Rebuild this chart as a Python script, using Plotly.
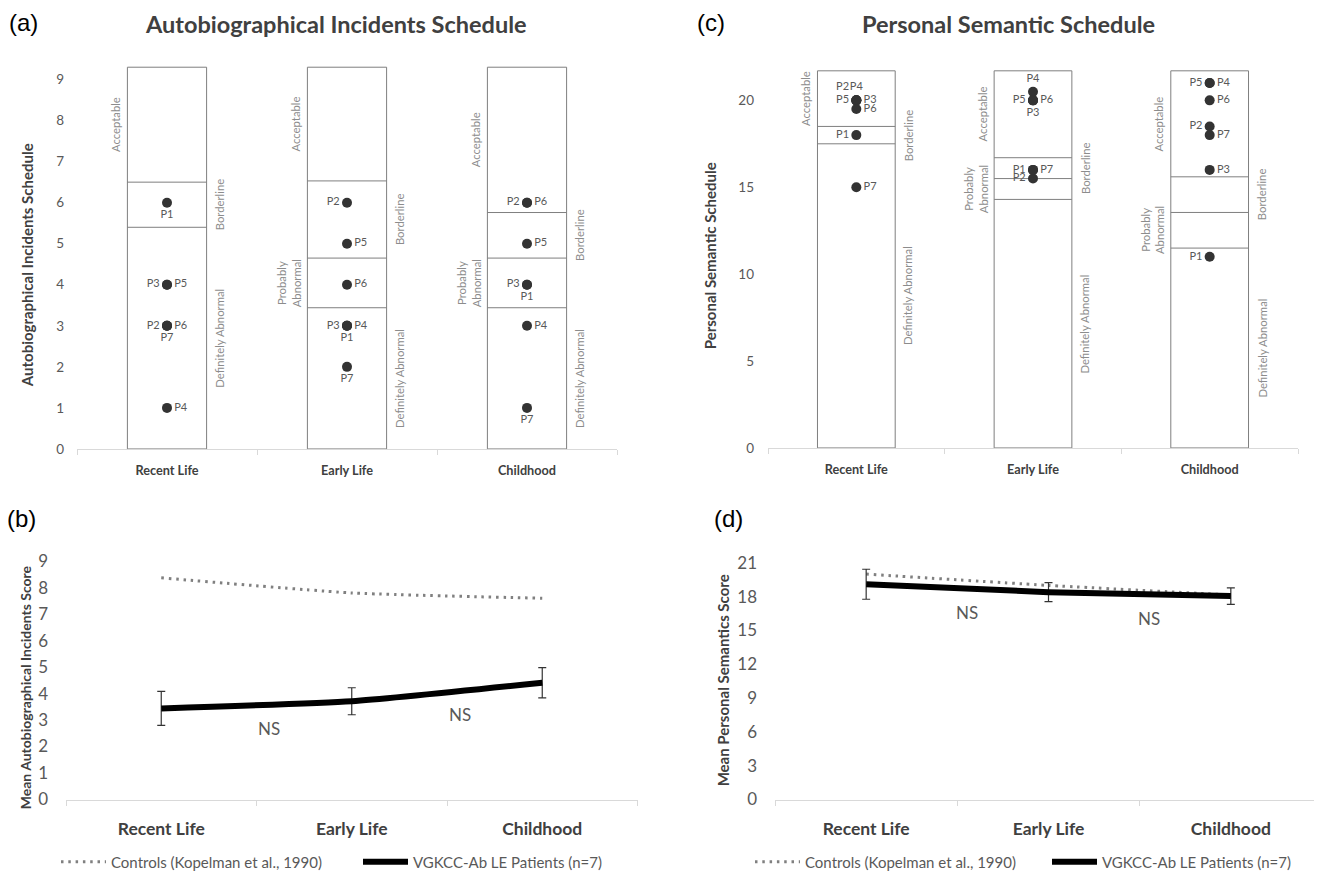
import plotly.graph_objects as go

# page geometry (the html body adds an 8px margin around the figure)
PAGE_W, PAGE_H, OFF = 1322, 879, 8
W, H = PAGE_W - OFF, PAGE_H - OFF

# ---------------- data ----------------
categories = ["Recent Life", "Early Life", "Childhood"]
patients = ["P1", "P2", "P3", "P4", "P5", "P6", "P7"]

# (a) Autobiographical Incidents Schedule - individual scores
ais_recent = [6, 3, 4, 1, 4, 3, 3]
ais_early = [3, 6, 3, 3, 5, 4, 2]
ais_childhood = [4, 6, 4, 3, 5, 6, 1]
ais_cutoffs_recent = [5.4, 6.5]
ais_cutoffs_early = [3.44, 4.65, 6.53]
ais_cutoffs_childhood = [3.44, 4.65, 5.76]
ais_scale_top = 9.3
ais_ticks = [0, 1, 2, 3, 4, 5, 6, 7, 8, 9]

# (c) Personal Semantic Schedule - individual scores
pss_recent = [18, 20, 20, 20, 20, 19.5, 15]
pss_early = [16, 15.5, 20, 20.5, 20, 20, 16]
pss_childhood = [11, 18.5, 16, 21, 21, 20, 18]
pss_cutoffs_recent = [17.5, 18.5]
pss_cutoffs_early = [14.3, 15.5, 16.7]
pss_cutoffs_childhood = [11.5, 13.55, 15.6]
pss_scale_top = 21.7
pss_ticks = [0, 5, 10, 15, 20]

zones_3 = ["Definitely Abnormal", "Borderline", "Acceptable"]
zones_4 = ["Definitely Abnormal", "Probably<br>Abnormal", "Borderline", "Acceptable"]

# (b) mean AIS scores
ais_controls = [8.37, 7.8, 7.6]
ais_patients = [3.44, 3.71, 4.41]
ais_patients_err = [0.64, 0.51, 0.57]
ais_mean_ticks = [0, 1, 2, 3, 4, 5, 6, 7, 8, 9]

# (d) mean PSS scores
pss_controls = [20.0, 19.0, 18.15]
pss_patients = [19.1, 18.4, 18.05]
pss_patients_err = [1.33, 0.84, 0.73]
pss_mean_ticks = [0, 3, 6, 9, 12, 15, 18, 21]

series_names = ["Controls (Kopelman et al., 1990)", "VGKCC-Ab LE Patients (n=7)"]
ns_text = "NS"

# ---------------- styles ----------------
FONT = "Lato"
DARK = "#404040"
MID = "#595959"
LIGHT = "#7f7f7f"
BOX_HALF = 0.22

ais_label_pos = ["bottom center", "middle left", "middle left", "middle right",
                 "middle right", "middle right", "bottom center"]
pss_label_pos = [
    ["middle left", "top left", "middle right", "top center", "middle left", "middle right", "middle right"],
    ["middle left", "middle left", "bottom center", "top center", "middle left", "middle right", "middle right"],
    ["middle left", "middle left", "middle right", "middle right", "middle left", "middle right", "middle right"],
]
zone_side = {"Acceptable": "left", "Borderline": "right",
             "Probably<br>Abnormal": "left", "Definitely Abnormal": "right"}
zone_shift = {"Acceptable": -12, "Borderline": 13,
              "Probably<br>Abnormal": -18, "Definitely Abnormal": 13}


def fx(px):
    return (px - OFF) / W


def fy(py):
    return 1 - (py - OFF) / H


def xdom(l, r):
    return [fx(l), min(1.0, fx(r))]


def ydom(bottom, top):
    return [fy(bottom), fy(top)]


fig = go.Figure()
shapes = []
annotations = []


def schedule_panel(xa, ya, score_sets, cutoff_sets, top, label_positions):
    for i, (scores, cuts) in enumerate(zip(score_sets, cutoff_sets)):
        shapes.append(dict(type="rect", xref=xa, yref=ya, x0=i - BOX_HALF, x1=i + BOX_HALF,
                           y0=0, y1=top, line=dict(color=LIGHT, width=1), layer="below"))
        for c in cuts:
            shapes.append(dict(type="line", xref=xa, yref=ya, x0=i - BOX_HALF, x1=i + BOX_HALF,
                               y0=c, y1=c, line=dict(color=LIGHT, width=1), layer="below"))
        bounds = [0] + list(cuts) + [top]
        names = zones_3 if len(cuts) == 2 else zones_4
        for k, name in enumerate(names):
            side = zone_side[name]
            annotations.append(dict(
                xref=xa, yref=ya, x=i - BOX_HALF if side == "left" else i + BOX_HALF,
                y=(bounds[k] + bounds[k + 1]) / 2, text=name, showarrow=False, textangle=-90,
                xanchor="center", yanchor="middle", xshift=zone_shift[name],
                font=dict(family=FONT, size=11.3, color="#8c8c8c")))
        pos = label_positions[i] if isinstance(label_positions[0], list) else label_positions
        fig.add_trace(go.Scatter(
            x=[i] * len(scores), y=scores, mode="markers+text", text=patients,
            textposition=pos, marker=dict(size=10, color="#333333"),
            textfont=dict(family=FONT, size=11, color=MID),
            xaxis=xa, yaxis=ya, showlegend=False, cliponaxis=False, hoverinfo="skip"))


schedule_panel("x", "y", [ais_recent, ais_early, ais_childhood],
               [ais_cutoffs_recent, ais_cutoffs_early, ais_cutoffs_childhood], ais_scale_top, ais_label_pos)
schedule_panel("x2", "y2", [pss_recent, pss_early, pss_childhood],
               [pss_cutoffs_recent, pss_cutoffs_early, pss_cutoffs_childhood], pss_scale_top, pss_label_pos)


def mean_panel(xa, ya, controls, pts, err, legends):
    xs = list(range(len(categories)))
    fig.add_trace(go.Scatter(
        x=xs, y=controls, mode="lines", name=series_names[0],
        line=dict(color="#808080", width=3, dash="2.5px,4.8px", shape="spline", smoothing=0.5),
        xaxis=xa, yaxis=ya, legend=legends[0], hoverinfo="skip"))
    fig.add_trace(go.Scatter(
        x=xs, y=pts, mode="lines", name=series_names[1],
        line=dict(color="#000000", width=6, shape="spline", smoothing=0.5),
        error_y=dict(type="data", array=err, visible=True, color="#333333", thickness=1.2, width=4),
        xaxis=xa, yaxis=ya, legend=legends[1], hoverinfo="skip"))


mean_panel("x3", "y3", ais_controls, ais_patients, ais_patients_err, ["legend", "legend2"])
mean_panel("x4", "y4", pss_controls, pss_patients, pss_patients_err, ["legend3", "legend4"])

# NS labels
for xa, ya, pts in [("x3", "y3", [(0.567, 2.7), (1.57, 3.22)]),
                    ("x4", "y4", [(0.555, 16.6), (1.55, 16.06)])]:
    for (px, py) in pts:
        annotations.append(dict(xref=xa, yref=ya, x=px, y=py, text=ns_text, showarrow=False,
                                font=dict(family=FONT, size=17, color=MID)))

# panel letters
for txt, x, y in [("(a)", 7, 23), ("(c)", 695, 23), ("(b)", 5, 522), ("(d)", 712, 522)]:
    annotations.append(dict(xref="paper", yref="paper", x=fx(x), y=fy(y), text=txt,
                            showarrow=False, xanchor="left", yanchor="middle",
                            font=dict(family="Liberation Sans", size=24, color="#000000")))

# panel titles
for txt, x in [("Autobiographical Incidents Schedule", 336), ("Personal Semantic Schedule", 1008)]:
    annotations.append(dict(xref="paper", yref="paper", x=fx(x), y=1.0, text=txt,
                            showarrow=False, xanchor="center", yanchor="top",
                            font=dict(family=FONT, size=23.5, color=DARK, weight="bold")))

# y axis titles
for txt, x, y, s in [("Autobiographical Incidents Schedule", 27, 267, 15),
                     ("Personal Semantic Schedule", 710, 258, 15),
                     ("Mean Autobiographical Incidents Score", 25, 692, 14),
                     ("Mean Personal Semantics Score", 723, 685, 15)]:
    annotations.append(dict(xref="paper", yref="paper", x=fx(x), y=fy(y), text=txt,
                            showarrow=False, textangle=-90, xanchor="center", yanchor="middle",
                            font=dict(family=FONT, size=s, color=DARK, weight="bold")))


def xaxis_cfg(domain, anchor, cat_size, standoff):
    return dict(domain=domain, anchor=anchor, range=[-0.5, 2.5], tickvals=[0, 1, 2],
                ticktext=categories, showgrid=False, zeroline=False, showline=True,
                linecolor="#d9d9d9", linewidth=1, ticks="", ticklabelstandoff=standoff,
                tickfont=dict(family=FONT, size=cat_size, color=DARK, weight="bold"),
                minor=dict(tickvals=[-0.5, 0.5, 1.5, 2.5], ticks="outside", ticklen=5,
                           tickcolor="#d9d9d9", tickwidth=1, showgrid=False),
                fixedrange=True)


def yaxis_cfg(domain, anchor, rng, ticks, size, standoff):
    return dict(domain=domain, anchor=anchor, range=rng, tickvals=ticks, showgrid=False,
                zeroline=False, showline=False, ticks="", ticklabelstandoff=standoff,
                tickfont=dict(family=FONT, size=size, color=MID), fixedrange=True)


def legend_cfg(text_x):
    return dict(orientation="h", x=fx(text_x - 55), xanchor="left", y=fy(868), yanchor="middle",
                font=dict(family=FONT, size=15, color=MID), bgcolor="rgba(0,0,0,0)",
                itemwidth=45, borderwidth=0)


# pixel geometry of the value axes
a_bottom, a_unit = 452, 41.33
c_bottom, c_unit = 451, 17.5
a_top_val, c_top_val = 9.4, 21.85

fig.update_layout(
    width=W, height=H, autosize=False,
    margin=dict(l=0, r=0, t=0, b=0, pad=0),
    paper_bgcolor="white", plot_bgcolor="white",
    template="none",
    xaxis=xaxis_cfg(xdom(77, 617), "y", 12.7, 10),
    yaxis=yaxis_cfg(ydom(a_bottom, a_bottom - a_top_val * a_unit), "x", [0, a_top_val], ais_ticks, 13.5, 12),
    xaxis2=xaxis_cfg(xdom(768, 1298), "y2", 12.7, 10),
    yaxis2=yaxis_cfg(ydom(c_bottom, c_bottom - c_top_val * c_unit), "x2", [0, c_top_val], pss_ticks, 13.5, 13),
    xaxis3=xaxis_cfg(xdom(66, 637.5), "y3", 17.5, 13),
    yaxis3=yaxis_cfg(ydom(805, 565), "x3", [0, 9], ais_mean_ticks, 17, 17),
    xaxis4=xaxis_cfg(xdom(775, 1322), "y4", 17.5, 13),
    yaxis4=yaxis_cfg(ydom(805, 566.7), "x4", [0, 21], pss_mean_ticks, 17, 17),
    legend=legend_cfg(111),
    legend2=legend_cfg(413),
    legend3=legend_cfg(805),
    legend4=legend_cfg(1102),
    shapes=shapes,
    annotations=annotations,
    showlegend=True,
    hovermode=False,
)

fig.write_html("out.html")
